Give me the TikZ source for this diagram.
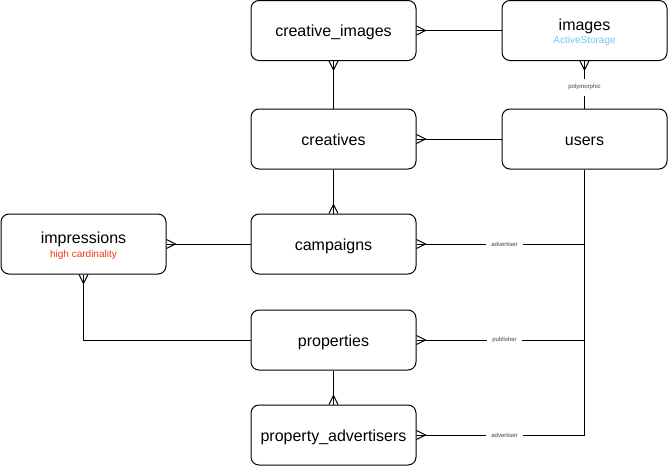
\documentclass[tikz,border=0pt]{standalone}
\usepackage{fontspec}
\setmainfont{Liberation Sans}
\usetikzlibrary{arrows.meta}
\definecolor{storage}{RGB}{110,200,240}
\definecolor{hotred}{RGB}{245,55,25}
\pgfdeclarearrow{
  name = crow,
  parameters = {\the\pgfarrowlength,\the\pgfarrowwidth},
  setup code = {
    \pgfarrowssettipend{0pt}
    \pgfarrowssetlineend{0pt}
    \pgfarrowssetbackend{-\pgfarrowlength}
    \pgfarrowssetvisualbackend{-\pgfarrowlength}
    \pgfarrowsupperhullpoint{0pt}{.5\pgfarrowwidth}
    \pgfarrowsupperhullpoint{-\pgfarrowlength}{0pt}
    \pgfarrowssavethe\pgfarrowlength
    \pgfarrowssavethe\pgfarrowwidth
  },
  drawing code = {
    \pgfpathmoveto{\pgfpoint{0pt}{.5\pgfarrowwidth}}
    \pgfpathlineto{\pgfpoint{-\pgfarrowlength}{0pt}}
    \pgfpathlineto{\pgfpoint{0pt}{-.5\pgfarrowwidth}}
    \pgfusepathqstroke
  },
  defaults = {length = 9pt, width = 9pt}
}
\tikzset{
        entity/.style={draw=black, line width=1pt, rounded corners=8pt, minimum width=165pt, minimum height=60pt, inner sep=0pt, text height=12pt, text depth=0pt, font=\fontsize{16}{19}\selectfont},
        twoline/.style={text depth=12.6pt},
        sub/.style={anchor=base, inner sep=0pt, font=\fontsize{10}{12}\selectfont},
        link/.style={line width=1pt, crow-},
        role/.style={fill=white, text=black!75, inner xsep=5pt, inner ysep=6pt, font=\fontsize{6}{7}\selectfont}
          }
\begin{document}
\begin{tikzpicture}[x=1pt, y=-1pt]
        \useasboundingbox (0,0) rectangle (668,466);
        \node[entity] (ci) at (333.5,30.5) {creative\_images};
        \node[entity, twoline] (img) at (584.5,30.5) {images};
        \node[sub, text=storage] (imgsub) at ([yshift=-13.3pt]img.base) {ActiveStorage};
        \node[entity] (cr) at (333.5,139) {creatives};
        \node[entity] (usr) at (584.5,139) {users};
        \node[entity, twoline] (imp) at (83.5,244) {impressions};
        \node[sub, text=hotred] (impsub) at ([yshift=-13.3pt]imp.base) {high cardinality};
        \node[entity] (cmp) at (333.5,244) {campaigns};
        \node[entity] (prop) at (333.5,340) {properties};
        \node[entity] (pa) at (333.5,435) {property\_advertisers};
        \coordinate (bus) at (usr.south |- pa.east);
        \draw[link] (ci.east) -- (img.west);
        \draw[link] (ci.south) -- (cr.north);
        \draw[link] (cr.east) -- (usr.west);
        \draw[link] (img.south) -- (usr.north) node[role, pos=.556] {polymorphic};
        \draw[link] (cmp.north) -- (cr.south);
        \draw[link] (imp.east) -- (cmp.west);
        \draw[link] (imp.south) |- (prop.west);
        \draw[link] (pa.north) -- (prop.south);
        \draw[line width=1pt] (usr.south) -- (bus);
        \draw[link] (cmp.east) -- (cmp.east -| bus) node[role, pos=.524] {advertiser};
        \draw[link] (prop.east) -- (prop.east -| bus) node[role, pos=.524] {publisher};
        \draw[link] (pa.east) -- (bus) node[role, pos=.524] {advertiser};
      \end{tikzpicture}
\end{document}
